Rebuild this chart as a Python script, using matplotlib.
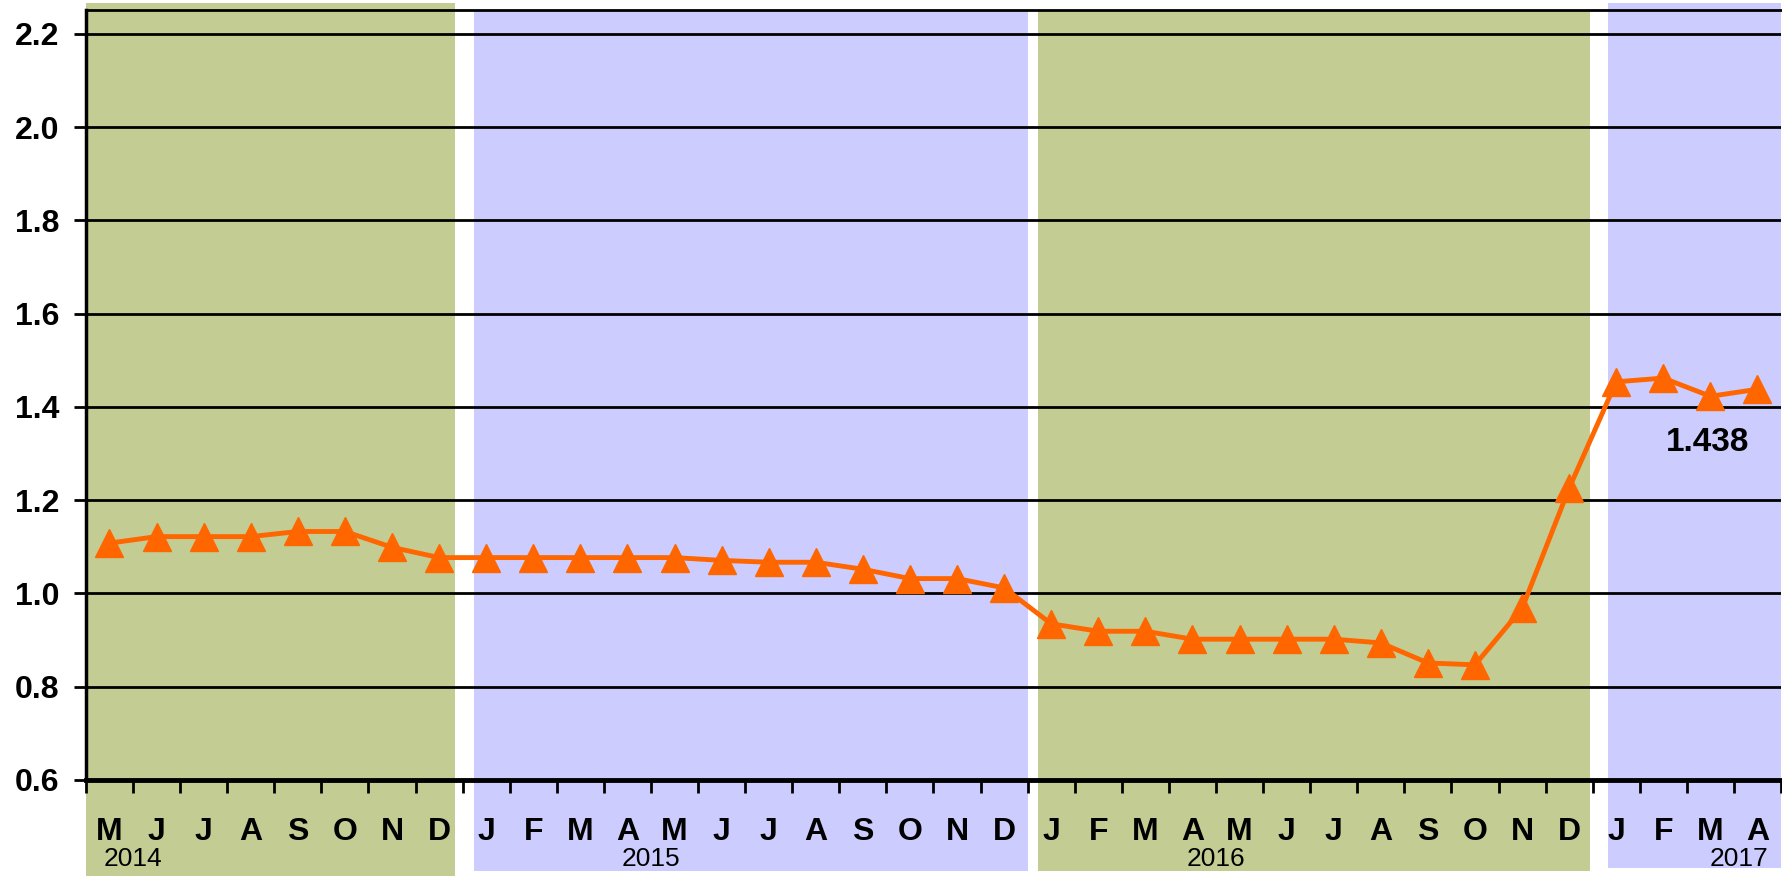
import numpy as np
import matplotlib
matplotlib.use("Agg")
import matplotlib.pyplot as plt
from matplotlib.patches import Rectangle
from matplotlib.transforms import blended_transform_factory

# monthly values, May 2014 .. Apr 2017
months = ["M", "J", "J", "A", "S", "O", "N", "D",
          "J", "F", "M", "A", "M", "J", "J", "A", "S", "O", "N", "D",
          "J", "F", "M", "A", "M", "J", "J", "A", "S", "O", "N", "D",
          "J", "F", "M", "A"]
values = [1.108, 1.122, 1.122, 1.122, 1.133, 1.133, 1.099, 1.077,
          1.077, 1.077, 1.077, 1.077, 1.077, 1.071, 1.067, 1.067, 1.052, 1.032, 1.032, 1.012,
          0.935, 0.919, 0.919, 0.902, 0.902, 0.902, 0.902, 0.894, 0.851, 0.847, 0.968, 1.226,
          1.454, 1.462, 1.423, 1.438]
years = ["2014", "2015", "2016", "2017"]
year_pos = [0.5, 11.5, 23.5, 34.6]
# background bands: (start, end, colour, bottom, top) in month-index / figure units
bands = [(-0.5, 7.34, "#c3cc92", 0.0, 0.997),
         (7.75, 19.5, "#ccccfe", 0.006, 0.989),
         (19.73, 31.45, "#c3cc92", 0.006, 0.989),
         (31.82, 35.5, "#ccccfe", 0.009, 0.997)]
last_label = "1.438"

plt.rcParams['font.family'] = ['Liberation Sans', 'DejaVu Sans']

fig = plt.figure(figsize=(17.83, 8.76), dpi=100)
ax = fig.add_axes([0.0482, 0.1096, 0.9507, 0.879])
ax.set_facecolor("none")

x = np.arange(len(values))
trans = blended_transform_factory(ax.transData, fig.transFigure)
for x0, x1, col, b, t in bands:
    ax.add_patch(Rectangle((x0, b), x1 - x0, t - b, transform=trans,
                           facecolor=col, edgecolor="none", clip_on=False, zorder=0))

ax.set_xlim(-0.5, len(values) - 0.5)
ax.set_ylim(0.6, 2.2515)
ax.set_yticks(np.arange(0.6, 2.21, 0.2))
ax.yaxis.set_major_formatter(matplotlib.ticker.FormatStrFormatter('%.1f'))
for yv in np.arange(0.8, 2.21, 0.2):
    ax.axhline(yv, color="black", lw=2, zorder=1)

ax.plot(x, values, color="#ff6600", lw=3.5, marker="^", ms=19.5, zorder=3)

ax.annotate(last_label, (x[-1], values[-1]), xytext=(33.93, 1.323),
            textcoords="data", ha="center", va="center",
            fontsize=24, fontweight="bold")

# ticks at month boundaries, labels at month centres
ax.set_xticks(np.arange(-0.5, len(values), 1.0))
ax.set_xticklabels([])
ax.tick_params(axis="x", length=9, width=2, direction="out", color="black")
ax.tick_params(axis="y", length=9, width=2, pad=10, labelsize=23)
for lab in ax.get_yticklabels():
    lab.set_fontweight("bold")

for i, m in enumerate(months):
    ax.text(i, 0.050, m, transform=trans, ha="center", va="center",
            fontsize=23, fontweight="bold")
for yp, yl in zip(year_pos, years):
    ax.text(yp, 0.019, yl, transform=trans, ha="center", va="center", fontsize=19)

ax.spines["right"].set_visible(False)
ax.spines["top"].set_linewidth(2)
ax.spines["left"].set_linewidth(2.5)
ax.spines["bottom"].set_linewidth(3.5)

fig.savefig("out.png", dpi=100)
